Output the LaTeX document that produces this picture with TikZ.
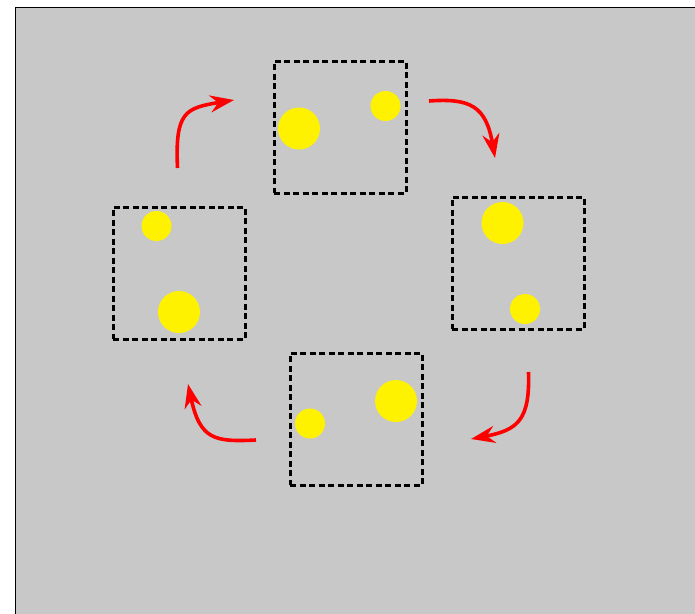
\documentclass[tikz,border=0pt]{standalone}
\usetikzlibrary{arrows.meta}
\begin{document}
\begin{tikzpicture}[x=1pt,y=-1pt,
  frame/.style={draw=black, line width=3pt, dash pattern=on 6pt off 3.5pt, minimum width=132pt, minimum height=132pt, inner sep=0pt},
  bigdot/.style={circle, fill=yellow, minimum size=42pt, inner sep=0pt},
  smalldot/.style={circle, fill=yellow, minimum size=30pt, inner sep=0pt},
  cycle/.style={draw=red, line width=3.6pt, -{Stealth[length=24pt,width=17pt,inset=8pt]}}]
\useasboundingbox (0,0) rectangle (695,613);
% background panel
\fill[fill={rgb,255:red,200;green,200;blue,200}] (15.5,7.5) rectangle (700,620);
\draw[black, line width=1.8pt] (15.5,620) -- (15.5,7.5) -- (700,7.5);
% frames
\node[frame] (top) at (340,127) {};
\node[frame] (right) at (518,263) {};
\node[frame] (bottom) at (356,419) {};
\node[frame] (left) at (179,273) {};
% dots
\node[bigdot] (t1) at (299,128.5) {};
\node[smalldot] (t2) at (385.5,106) {};
\node[bigdot] (r1) at (502.5,223) {};
\node[smalldot] (r2) at (525,309) {};
\node[bigdot] (b1) at (396,401) {};
\node[smalldot] (b2) at (310,423.5) {};
\node[smalldot] (l1) at (156.5,226) {};
\node[bigdot] (l2) at (179,312) {};
% cycle arrows
\coordinate (a1s) at (177.5,168);
\coordinate (a1e) at (234,100);
\coordinate (a2s) at (429,101);
\coordinate (a2e) at (495,158);
\coordinate (a3s) at (528.5,372);
\coordinate (a3e) at (471,439);
\coordinate (a4s) at (256,440);
\coordinate (a4e) at (188,384);
\draw[cycle] (a1s) .. controls (175,112) and (185,108) .. (a1e);
\draw[cycle] (a2s) .. controls (470,98) and (486,106) .. (a2e);
\draw[cycle] (a3s) .. controls (530,420) and (518,430) .. (a3e);
\draw[cycle] (a4s) .. controls (215,442) and (200,440) .. (a4e);
\end{tikzpicture}
\end{document}
